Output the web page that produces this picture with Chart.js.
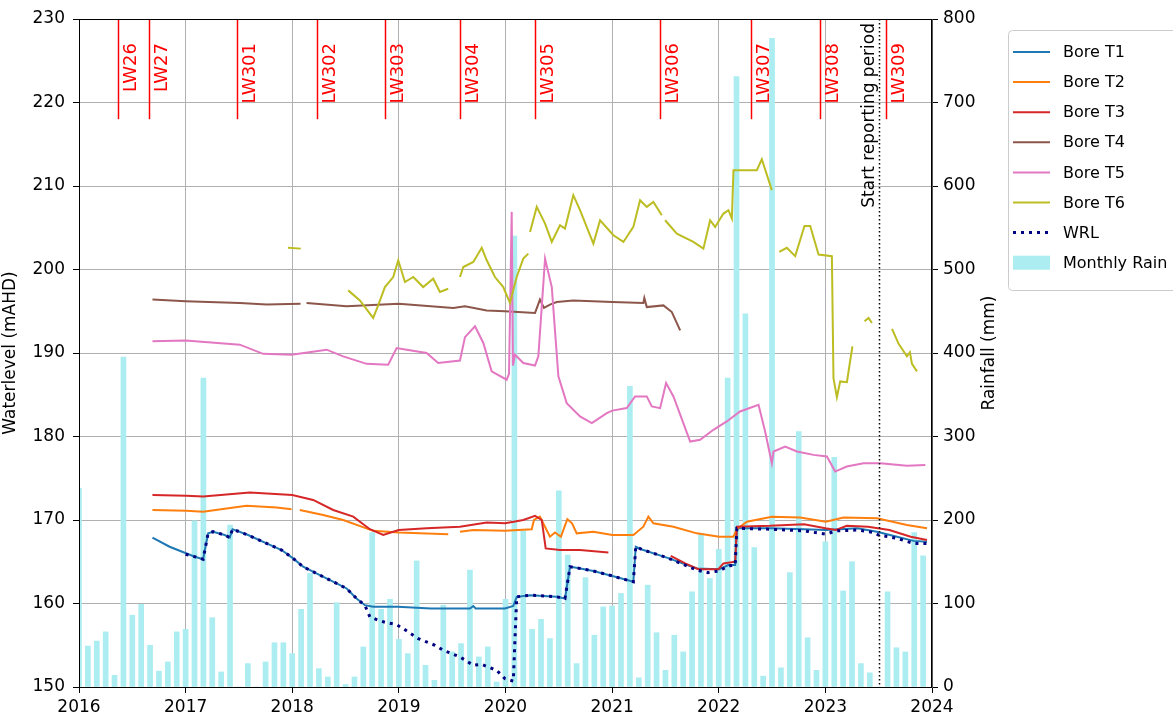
<!DOCTYPE html>
<html lang="en">
<head>
  <meta charset="UTF-8">
  <title>Bore water levels and rainfall</title>
  <script src="https://cdn.jsdelivr.net/npm/chart.js"></script>
  <style>
    body { margin: 0; background: #fff; }
    canvas { display: block; }
  </style>
</head>
<body>
  <canvas id="chart" width="1173" height="725"></canvas>

  <script>
    // Monthly rain (mm), one bar per month end, first bar = Dec 2015
    const rainMm = [
      238, 49, 55, 66, 14, 395, 86, 99, 50, 19, 30, 66,
      69, 199, 370, 83, 18, 194, 0, 28, 0, 30, 53, 53,
      40, 93, 136, 22, 12, 101, 3, 12, 48, 185, 93, 105,
      57, 40, 151, 26, 8, 98, 42, 52, 140, 36, 48, 6,
      105, 540, 187, 69, 81, 58, 235, 158, 28, 131, 62, 96,
      97, 112, 360, 11, 122, 65, 20, 62, 42, 114, 183, 130,
      165, 370, 731, 447, 167, 13, 777, 23, 137, 306, 59, 20,
      174, 275, 115, 150, 28, 17, 0, 114, 47, 42, 185, 157
    ];
    const rainMonth = rainMm.map((_, i) => 2016 + i / 12);

    // Bore T1
    const t1X = [2016.689, 2016.85, 2017.086, 2017.164, 2017.211, 2017.258, 2017.367, 2017.414, 2017.44, 2017.586, 2017.759, 2017.9, 2018.008,
      2018.102, 2018.259, 2018.416, 2018.51, 2018.603, 2018.681, 2018.759, 2018.99, 2019.3, 2019.667, 2019.698, 2019.72, 2019.995,
      2020.073, 2020.105, 2020.23, 2020.48, 2020.558, 2020.605, 2020.652, 2020.824, 2021.002, 2021.199, 2021.222, 2021.293,
      2021.513, 2021.794, 2022.004, 2022.091, 2022.154, 2022.17, 2022.482, 2022.8, 2023.005, 2023.3, 2023.484, 2023.671, 2023.827, 2023.953];
    const t1Y = [167.9, 166.8, 165.6, 165.3, 168.4, 168.6, 168.2, 167.9, 168.9, 168.2, 167.2, 166.4, 165.4,
      164.4, 163.4, 162.4, 161.8, 160.6, 159.8, 159.6, 159.6, 159.4, 159.4, 159.7, 159.4, 159.4,
      159.7, 160.8, 161.0, 160.8, 160.6, 164.4, 164.3, 163.9, 163.3, 162.6, 166.8, 166.4,
      165.5, 164.2, 164.1, 164.6, 164.6, 169.0, 169.0, 168.9, 168.8, 169.0, 168.6, 168.0, 167.5, 167.4];

    // Bore T2
    const t2X = [2016.689, 2017.008, 2017.164, 2017.571, 2017.853, 2017.993, 2018.03, 2018.071, 2018.29, 2018.478, 2018.65, 2018.759,
      2018.998, 2019.463, 2019.52, 2019.573, 2019.698, 2019.995, 2020.246, 2020.267, 2020.323, 2020.37, 2020.417, 2020.464,
      2020.52, 2020.58, 2020.624, 2020.668, 2020.824, 2021.002, 2021.199, 2021.293, 2021.34, 2021.387, 2021.575, 2021.794,
      2022.004, 2022.138, 2022.17, 2022.264, 2022.498, 2022.764, 2023.005, 2023.17, 2023.484, 2023.765, 2023.953];
    const t2Y = [171.2, 171.1, 171.0, 171.7, 171.5, 171.3, null, 171.2, 170.6, 170.0, 169.2, 168.7,
      168.5, 168.3, null, 168.6, 168.8, 168.7, 168.9, 170.0, 170.4, 169.2, 168.0, 168.5,
      168.0, 170.1, 169.6, 168.4, 168.6, 168.2, 168.2, 169.2, 170.4, 169.6, 169.2, 168.4,
      168.0, 168.0, 168.9, 169.8, 170.4, 170.3, 169.8, 170.3, 170.2, 169.4, 169.0];

    // Bore T3
    const t3X = [2016.689, 2017.008, 2017.164, 2017.602, 2018.0, 2018.196, 2018.384, 2018.572, 2018.728, 2018.853, 2018.998,
      2019.26, 2019.573, 2019.824, 2019.998, 2020.167, 2020.277, 2020.34, 2020.377, 2020.511, 2020.699, 2020.965, 2021.2,
      2021.55, 2021.685, 2021.81, 2021.997, 2022.044, 2022.154, 2022.17, 2022.48, 2022.8, 2023.0, 2023.1, 2023.2, 2023.4,
      2023.6, 2023.8, 2023.953];
    const t3Y = [173.0, 172.9, 172.8, 173.3, 173.0, 172.4, 171.2, 170.4, 168.9, 168.2, 168.8,
      169.0, 169.2, 169.7, 169.6, 170.0, 170.5, 170.0, 166.6, 166.4, 166.4, 166.1, null,
      165.7, 164.8, 164.1, 164.1, 164.8, 165.0, 169.2, 169.3, 169.5, 169.0, 168.8, 169.3, 169.2,
      168.8, 168.0, 167.6];

    // Bore T4
    const t4X = [2016.689, 2016.999, 2017.508, 2017.759, 2018.078, 2018.1, 2018.134, 2018.51, 2018.998, 2019.51, 2019.62,
      2019.824, 2019.995, 2020.277, 2020.323, 2020.361, 2020.417, 2020.48, 2020.636, 2021.002, 2021.293, 2021.302,
      2021.325, 2021.481, 2021.56, 2021.638];
    const t4Y = [196.4, 196.2, 196.0, 195.8, 195.9, null, 196.0, 195.6, 195.9, 195.4, 195.6,
      195.1, 195.0, 194.8, 196.4, 195.4, 195.8, 196.1, 196.3, 196.1, 196.0, 196.6,
      195.5, 195.7, 194.9, 192.7];

    // Bore T5
    const t5X = [2016.689, 2017.0, 2017.508, 2017.727, 2017.993, 2018.322, 2018.478, 2018.697, 2018.9, 2018.979, 2019.073,
      2019.26, 2019.369, 2019.573, 2019.62, 2019.714, 2019.792, 2019.87, 2020.011, 2020.033, 2020.058, 2020.07, 2020.089,
      2020.167, 2020.277, 2020.308, 2020.371, 2020.434, 2020.496, 2020.574, 2020.699, 2020.809, 2020.95, 2021.002,
      2021.137, 2021.215, 2021.325, 2021.372, 2021.45, 2021.506, 2021.575, 2021.732, 2021.825, 2021.95, 2022.075,
      2022.2, 2022.373, 2022.435, 2022.498, 2022.514, 2022.623, 2022.733, 2022.889, 2023.014, 2023.092, 2023.2,
      2023.358, 2023.515, 2023.765, 2023.937];
    const t5Y = [191.4, 191.5, 191.0, 189.9, 189.8, 190.4, 189.6, 188.7, 188.6, 190.6, 190.4,
      190.0, 188.8, 189.1, 191.9, 193.2, 191.2, 187.8, 186.8, 187.5, 206.9, 188.5, 189.8,
      188.8, 188.5, 189.6, 201.3, 197.9, 187.2, 184.0, 182.4, 181.6, 182.8, 183.1,
      183.4, 184.8, 184.8, 183.6, 183.4, 186.4, 184.8, 179.4, 179.6, 180.8, 181.8,
      183.0, 183.8, 180.6, 176.8, 178.2, 178.8, 178.2, 177.8, 177.6, 175.8, 176.4,
      176.8, 176.8, 176.5, 176.6];

    // Bore T6
    const t6X = [2017.96, 2018.08, 2018.3,
      2018.525, 2018.634, 2018.759, 2018.806, 2018.869, 2018.947, 2018.994, 2019.057, 2019.135, 2019.228, 2019.322, 2019.385, 2019.463, 2019.52,
      2019.573, 2019.604, 2019.698, 2019.777, 2019.824, 2019.901, 2019.979, 2020.042, 2020.105, 2020.167, 2020.214, 2020.22,
      2020.23, 2020.293, 2020.371, 2020.434, 2020.511, 2020.558, 2020.636, 2020.699, 2020.824, 2020.887, 2021.012, 2021.106,
      2021.199, 2021.262, 2021.325, 2021.387, 2021.466, 2021.48,
      2021.497, 2021.607, 2021.762, 2021.856, 2021.919, 2021.966, 2022.044, 2022.091, 2022.123, 2022.138, 2022.357, 2022.404, 2022.498, 2022.53,
      2022.567, 2022.639, 2022.717, 2022.804, 2022.858, 2022.936, 2023.061, 2023.076, 2023.108, 2023.139, 2023.202, 2023.233, 2023.254, 2023.3,
      2023.367, 2023.405, 2023.437, 2023.5,
      2023.625, 2023.687, 2023.765, 2023.793, 2023.812, 2023.859];
    const t6Y = [202.6, 202.5, null,
      197.5, 196.3, 194.2, 195.7, 197.9, 199.1, 201.1, 198.5, 199.1, 197.9, 198.9, 197.3, 197.7, null,
      199.1, 200.3, 200.9, 202.6, 201.1, 199.1, 197.9, 196.0, 199.1, 201.3, 201.9, null,
      204.5, 207.5, 205.5, 203.3, 205.3, 204.9, 208.9, 207.1, 203.1, 205.9, 204.1, 203.3,
      205.1, 208.3, 207.5, 208.1, 206.5, null,
      205.9, 204.3, 203.3, 202.5, 205.9, 205.1, 206.7, 207.1, 206.1, 211.9, 211.9, 213.2, 209.5, null,
      202.1, 202.6, 201.6, 205.2, 205.2, 201.8, 201.6, 187.0, 184.7, 186.6, 186.5, 189.1, 190.8, null,
      193.8, 194.2, 193.6, null,
      192.9, 191.1, 189.6, 190.1, 188.7, 187.8];

    // WRL
    const wrlX = [2017.0, 2017.086, 2017.164, 2017.211, 2017.258, 2017.367, 2017.414, 2017.44, 2017.586, 2017.759, 2017.9, 2018.008,
      2018.102, 2018.259, 2018.416, 2018.51, 2018.603, 2018.681, 2018.728, 2018.806, 2018.885, 2018.972, 2019.041, 2019.182,
      2019.338, 2019.416, 2019.573, 2019.698, 2019.777, 2019.917, 2019.995, 2020.073, 2020.105, 2020.23, 2020.48, 2020.558,
      2020.605, 2020.652, 2020.824, 2021.002, 2021.199, 2021.222, 2021.293, 2021.513, 2021.794, 2021.9, 2022.004, 2022.091,
      2022.154, 2022.17, 2022.482, 2022.8, 2023.005, 2023.1, 2023.3, 2023.45, 2023.5, 2023.671, 2023.827, 2023.953];
    const wrlY = [165.9, 165.6, 165.3, 168.4, 168.6, 168.2, 167.9, 168.9, 168.2, 167.2, 166.4, 165.4,
      164.4, 163.4, 162.4, 161.8, 160.6, 159.8, 158.4, 158.0, 157.7, 157.5, 157.0, 155.8,
      155.0, 154.4, 153.6, 152.6, 152.7, 152.0, 151.0, 150.7, 160.8, 161.0, 160.8, 160.6,
      164.4, 164.3, 163.9, 163.3, 162.6, 166.8, 166.4, 165.5, 164.0, 163.7, 163.9, 164.5,
      164.6, 169.0, 168.9, 168.7, 168.3, 168.7, 168.8, 168.5, 168.2, 167.8, 167.2, 167.2];

    // Longwall markers and reporting start
    const lwNames = ['LW26', 'LW27', 'LW301', 'LW302', 'LW303', 'LW304', 'LW305', 'LW306', 'LW307', 'LW308', 'LW309'];
    const lwYears = [2016.366, 2016.654, 2017.486, 2018.234, 2018.869, 2019.573, 2020.277, 2021.45, 2022.30, 2022.945, 2023.571];
    const lwBottom = 218;
    const reportStart = 2023.5;

    const pts = (xs, ys) => xs.map((x, i) => ({ x: x, y: ys[i] }));

    const lineSet = (label, xs, ys, color, order) => ({
      type: 'line',
      label: label,
      data: pts(xs, ys),
      borderColor: color,
      backgroundColor: color,
      borderWidth: 2,
      pointRadius: 0,
      tension: 0,
      spanGaps: false,
      yAxisID: 'y',
      order: order
    });

    const datasets = [
      lineSet('Bore T1', t1X, t1Y, '#1f77b4', 7),
      lineSet('Bore T2', t2X, t2Y, '#ff7f0e', 6),
      lineSet('Bore T3', t3X, t3Y, '#d62728', 5),
      lineSet('Bore T4', t4X, t4Y, '#8c564b', 4),
      lineSet('Bore T5', t5X, t5Y, '#e377c2', 3),
      lineSet('Bore T6', t6X, t6Y, '#bcbd22', 2),
      Object.assign(lineSet('WRL', wrlX, wrlY, '#000080', 1), { borderWidth: 3, borderDash: [3, 5] }),
      {
        type: 'bar',
        label: 'Monthly Rain',
        data: pts(rainMonth, rainMm),
        backgroundColor: '#abedf0',
        borderWidth: 0,
        barThickness: 5,
        yAxisID: 'y1',
        clip: 0,
        order: 10
      }
    ];

    // annotations, frame, right axis title and legend box
    const extras = {
      id: 'extras',
      afterDatasetsDraw(chart) {
        const { ctx, chartArea: a, scales: { x, y } } = chart;
        ctx.save();
        ctx.strokeStyle = '#ff0000';
        ctx.fillStyle = '#ff0000';
        ctx.lineWidth = 1.5;
        ctx.font = '18px "DejaVu Sans"';
        lwYears.forEach((yr, i) => {
          const px = Math.round(x.getPixelForValue(yr)) + 0.5;
          ctx.beginPath();
          ctx.moveTo(px, y.getPixelForValue(230));
          ctx.lineTo(px, y.getPixelForValue(lwBottom));
          ctx.stroke();
          ctx.save();
          ctx.translate(px + 4, a.top + 24);
          ctx.rotate(-Math.PI / 2);
          ctx.textAlign = 'right';
          ctx.textBaseline = 'top';
          ctx.fillText(lwNames[i], 0, 0);
          ctx.restore();
        });

        const rx = Math.round(x.getPixelForValue(reportStart)) + 0.5;
        ctx.strokeStyle = '#000';
        ctx.lineWidth = 1.5;
        ctx.setLineDash([1.5, 2.5]);
        ctx.beginPath();
        ctx.moveTo(rx, a.top);
        ctx.lineTo(rx, a.bottom);
        ctx.stroke();
        ctx.setLineDash([]);
        ctx.fillStyle = '#000';
        ctx.font = '17px "DejaVu Sans"';
        ctx.save();
        ctx.translate(rx - 6, a.top + 4);
        ctx.rotate(-Math.PI / 2);
        ctx.textAlign = 'right';
        ctx.textBaseline = 'alphabetic';
        ctx.fillText('Start reporting period', 0, 0);
        ctx.restore();

        ctx.lineWidth = 1;
        ctx.strokeStyle = '#000';
        ctx.strokeRect(a.left + 0.5, a.top + 0.5, a.width - 1, a.height);
        ctx.restore();
      },
      afterDraw(chart) {
        const { ctx, chartArea: a } = chart;
        ctx.save();
        ctx.fillStyle = '#000';
        ctx.font = '17px "DejaVu Sans"';
        ctx.translate(a.right + 58, (a.top + a.bottom) / 2);
        ctx.rotate(-Math.PI / 2);
        ctx.textAlign = 'center';
        ctx.textBaseline = 'middle';
        ctx.fillText('Rainfall (mm)', 0, 0);
        ctx.restore();

        // legend
        const lx = a.right + 76, ly = a.top + 11, rowH = 30.1;
        ctx.save();
        ctx.fillStyle = 'rgba(255,255,255,0.9)';
        ctx.strokeStyle = '#cccccc';
        ctx.lineWidth = 1;
        ctx.beginPath();
        ctx.roundRect(lx + 0.5, ly + 0.5, 200, 260, 4);
        ctx.fill();
        ctx.stroke();
        ctx.font = '16px "DejaVu Sans"';
        ctx.textBaseline = 'middle';
        ctx.textAlign = 'left';
        chart.data.datasets.forEach((ds, i) => {
          const cy = ly + 22 + i * rowH;
          if (ds.type === 'bar') {
            ctx.fillStyle = ds.backgroundColor;
            ctx.fillRect(lx + 5, cy - 7, 37, 14);
          } else {
            ctx.strokeStyle = ds.borderColor;
            ctx.lineWidth = ds.borderWidth;
            ctx.setLineDash(ds.borderDash || []);
            ctx.beginPath();
            ctx.moveTo(lx + 5, cy);
            ctx.lineTo(lx + 42, cy);
            ctx.stroke();
            ctx.setLineDash([]);
          }
          ctx.fillStyle = '#000';
          ctx.fillText(ds.label, lx + 55, cy + 1);
        });
        ctx.restore();
      }
    };

    Chart.defaults.font.family = '"DejaVu Sans", sans-serif';
    Chart.defaults.font.size = 17;
    Chart.defaults.color = '#000';

    new Chart(document.getElementById('chart'), {
      type: 'line',
      data: { datasets: datasets },
      options: {
        responsive: false,
        animation: false,
        layout: { padding: { top: 19, right: 165, left: 0, bottom: 0 } },
        plugins: {
          legend: { display: false },
          tooltip: { enabled: false }
        },
        scales: {
          x: {
            type: 'linear',
            min: 2016,
            max: 2024,
            offset: false,
            ticks: { stepSize: 1, padding: 4, callback: v => String(v), maxRotation: 0 },
            grid: { color: '#b0b0b0', tickColor: '#000', tickLength: 6, offset: false },
            border: { color: '#000' },
            afterFit: s => { s.height = 38; }
          },
          y: {
            position: 'left',
            min: 150,
            max: 230,
            ticks: { stepSize: 10, padding: 8 },
            grid: { color: '#b0b0b0', tickColor: '#000', tickLength: 6 },
            border: { color: '#000' },
            title: { display: true, text: 'Waterlevel (mAHD)', padding: { top: 0, bottom: 0 }, font: { size: 17 } },
            afterFit: s => { s.width = 79; }
          },
          y1: {
            position: 'right',
            min: 0,
            max: 800,
            ticks: { stepSize: 100, padding: 5 },
            grid: { drawOnChartArea: false, tickColor: '#000', tickLength: 6 },
            border: { color: '#555' },
            afterFit: s => { s.width = 76; }
          }
        }
      },
      plugins: [extras]
    });
  </script>
</body>
</html>
